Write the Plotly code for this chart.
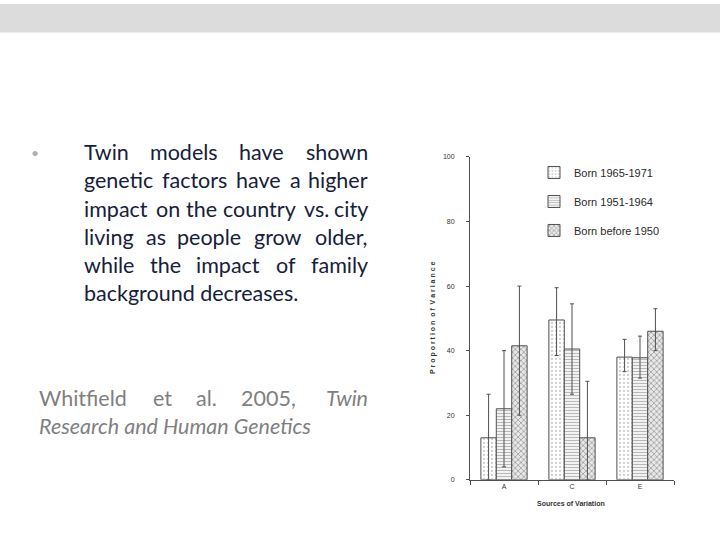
import re
import plotly.graph_objects as go

# chart data
sources = ["A", "C", "E"]
cohorts = ["Born 1965-1971", "Born 1951-1964", "Born before 1950"]
variance = {
    "Born 1965-1971": [13.0, 49.5, 38.0],
    "Born 1951-1964": [22.0, 40.5, 37.8],
    "Born before 1950": [41.5, 13.0, 46.0],
}
err_upper = {
    "Born 1965-1971": [13.5, 10.0, 5.5],
    "Born 1951-1964": [18.0, 14.0, 6.7],
    "Born before 1950": [18.5, 17.5, 7.0],
}
err_lower = {
    "Born 1965-1971": [13.0, 11.0, 4.5],
    "Born 1951-1964": [18.0, 14.0, 6.3],
    "Born before 1950": [21.5, 13.0, 6.0],
}
y_ticks = [0, 20, 40, 60, 80, 100]

body_lines = [
    "Twin models have shown",
    "genetic factors have a higher",
    "impact on the country vs. city",
    "living as people grow older,",
    "while the impact of family",
    "background decreases.",
]
cite_line1 = ["Whitfield", "et", "al.", "2005,", "<i>Twin</i>"]
cite_line2 = "<i>Research and Human Genetics</i>"

W, H = 720, 540
BODY_SIZE = 21.5

# rough Lato advance widths (em) used to justify the slide text
LATO_W = {
    "a": .507, "b": .555, "c": .459, "d": .555, "e": .512, "f": .316, "g": .498, "h": .553,
    "i": .235, "j": .235, "k": .504, "l": .235, "m": .827, "n": .553, "o": .553, "p": .545,
    "q": .555, "r": .372, "s": .418, "t": .350, "u": .553, "v": .500, "w": .760, "x": .490,
    "y": .500, "z": .440, ".": .22, ",": .22, "T": .55, "W": .98, "0": .58, "2": .58, "5": .58,
}


def word_width(word, size):
    plain = re.sub(r"<[^>]+>", "", word)
    return sum(LATO_W.get(ch, .55) for ch in plain) * size * 1.07


def px(x, y):
    """Convert pixel position on the slide to paper coordinates."""
    return x / W, 1 - y / H


def justify(words, left, right, size):
    """Return (word, x, anchor) so the words fill left..right."""
    widths = [word_width(w, size) for w in words]
    gap = (right - left - sum(widths)) / (len(words) - 1)
    out, x = [], left
    for i, (w, wd) in enumerate(zip(words, widths)):
        if i == len(words) - 1:
            out.append((w, right, "right"))
        else:
            out.append((w, x, "left"))
        x += wd + gap
    return out


def text_ann(text, x, y, anchor, color, size=BODY_SIZE):
    ax, ay = px(x, y)
    return dict(
        text=text, x=ax, y=ay, xref="paper", yref="paper",
        xanchor=anchor, yanchor="middle", showarrow=False, borderpad=0,
        font=dict(family="Lato", size=size, color=color),
    )


patterns = {
    "Born 1965-1971": dict(shape=".", fgcolor="#a0a0a0", bgcolor="white", size=4, solidity=0.25),
    "Born 1951-1964": dict(shape="-", fgcolor="#707070", bgcolor="white", size=3, solidity=0.45),
    "Born before 1950": dict(shape="x", fgcolor="#4a4a4a", bgcolor="#e8e8e8", size=4, solidity=0.35),
}

fig = go.Figure()

for c in cohorts:
    fig.add_trace(
        go.Bar(
            x=sources,
            y=variance[c],
            name=c,
            legendgroup=c,
            marker=dict(
                color="white",
                pattern=patterns[c],
                line=dict(color="#505050", width=1),
            ),
            error_y=dict(
                type="data",
                symmetric=False,
                array=err_upper[c],
                arrayminus=err_lower[c],
                color="#505050",
                thickness=1,
                width=2,
            ),
        )
    )

annotations = []
body_color = "#16203a"
cite_color = "#7f7f7f"
for i, line in enumerate(body_lines):
    yy = 150 + 28.6 * i
    if i == len(body_lines) - 1:
        annotations.append(text_ann(line, 83, yy, "left", body_color))
        continue
    for w, xx, a in justify(line.split(), 83, 369, BODY_SIZE):
        annotations.append(text_ann(w, xx, yy, a, body_color))

annotations.append(text_ann("•", 30, 150, "left", "#b0b0b0", size=14))

for w, xx, a in justify(cite_line1, 38, 369, BODY_SIZE):
    annotations.append(text_ann(w, xx, 399, a, cite_color))
annotations.append(text_ann(cite_line2, 38, 428, "left", cite_color))

# axis titles
tx, ty = px(433, 318)
annotations.append(
    dict(text="<b>P r o p o r t i o n  o f  V a r i a n c e</b>", x=tx, y=ty, xref="paper", yref="paper",
         xanchor="center", yanchor="middle", textangle=-90, showarrow=False,
         font=dict(family="Liberation Sans", size=7, color="#333333"))
)
tx, ty = px(571, 506)
annotations.append(
    dict(text="<b>Sources of Variation</b>", x=tx, y=ty, xref="paper", yref="paper",
         xanchor="center", yanchor="middle", showarrow=False,
         font=dict(family="Liberation Sans", size=7, color="#333333"))
)

x0, _ = px(470, 0)
x1, _ = px(674, 0)
_, y0 = px(0, 482)
_, y1 = px(0, 155)
lx, ly = px(534, 156)

fig.update_layout(
    width=W,
    height=H,
    margin=dict(l=0, r=0, t=0, b=0),
    paper_bgcolor="white",
    plot_bgcolor="white",
    barmode="group",
    bargap=0.32,
    bargroupgap=0,
    showlegend=True,
    legend=dict(
        x=lx, y=ly, xanchor="left", yanchor="top",
        bgcolor="rgba(0,0,0,0)",
        font=dict(family="Liberation Sans", size=11, color="#2a2a2a"),
        tracegroupgap=10,
        traceorder="grouped",
    ),
    xaxis=dict(
        domain=[x0, x1],
        showline=True, linecolor="#505050", linewidth=1,
        ticks="outside", tickson="boundaries", ticklen=4, tickcolor="#505050",
        showgrid=False, zeroline=False,
        tickfont=dict(family="Liberation Sans", size=7, color="#333333"),
    ),
    yaxis=dict(
        domain=[y0, y1],
        range=[0, 100],
        tickvals=y_ticks,
        showline=True, linecolor="#505050", linewidth=1,
        ticks="outside", ticklen=3, tickcolor="#505050",
        ticklabelstandoff=10,
        showgrid=False, zeroline=False,
        tickfont=dict(family="Liberation Sans", size=7, color="#333333"),
    ),
    shapes=[
        dict(type="rect", xref="paper", yref="paper", x0=0, x1=1, y0=1 - 29 / H, y1=1,
             fillcolor="#dcdcdc", line=dict(width=0), layer="below"),
    ],
    annotations=annotations,
)

# drop the default page margin so the 720x540 figure fills the window
fig.write_html(
    "out.html",
    config={"displayModeBar": False},
    post_script="document.body.style.margin='0';",
)
